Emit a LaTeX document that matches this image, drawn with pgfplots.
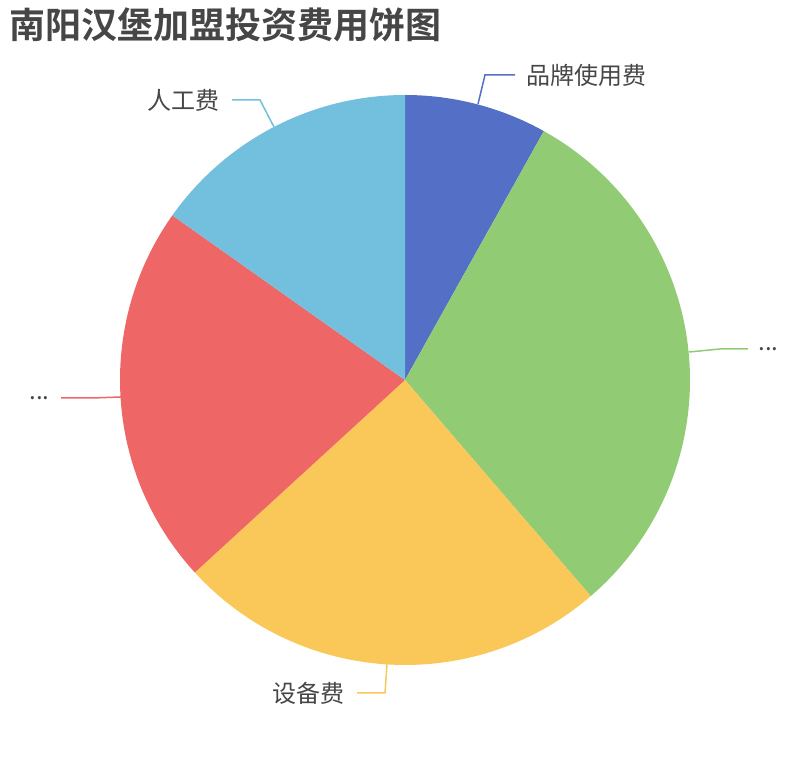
\documentclass[border=0pt]{standalone}
\usepackage{pgfplots}
\pgfplotsset{compat=1.18}
\usepackage{pgfplotstable}
\usepackage{fontspec}
\setmainfont{Noto Sans CJK SC}
\newfontfamily\titlefont{Noto Sans CJK SC Bold}
\definecolor{c1}{HTML}{5470C6}
\definecolor{c2}{HTML}{91CC75}
\definecolor{c3}{HTML}{FAC858}
\definecolor{c4}{HTML}{EE6666}
\definecolor{c5}{HTML}{73C0DE}
\definecolor{txt}{HTML}{464646}
% slice shares (percent), clockwise from 12 o'clock
\pgfplotstableread{
idx value
1 8.1
2 30.6
3 24.5
4 21.6
5 15.2
}\piedata
\newcommand\cum{0}
\newcommand\slice[2]{%
  \pgfmathsetmacro\sa{90-\cum*3.6}%
  \pgfmathsetmacro\ea{90-(\cum+#2)*3.6}%
  \fill[#1] (axis cs:405,380) -- ++(\sa:142.5pt) arc[start angle=\sa, end angle=\ea, radius=142.5pt] -- cycle;
  \pgfmathsetmacro\newcum{\cum+#2}\global\let\cum\newcum}
\begin{document}
\begin{tikzpicture}
\begin{axis}[x=0.5pt,y=0.5pt,xmin=0,xmax=810,ymin=0,ymax=760,
  hide axis,clip=false,enlargelimits=false]
\addplot[draw=none] coordinates {(0,0) (810,760)};
\pgfplotsextra{%
  \pgfplotstablegetelem{0}{value}\of\piedata\let\va\pgfplotsretval
  \pgfplotstablegetelem{1}{value}\of\piedata\let\vb\pgfplotsretval
  \pgfplotstablegetelem{2}{value}\of\piedata\let\vc\pgfplotsretval
  \pgfplotstablegetelem{3}{value}\of\piedata\let\vd\pgfplotsretval
  \pgfplotstablegetelem{4}{value}\of\piedata\let\ve\pgfplotsretval
  \slice{c1}{\va}\slice{c2}{\vb}\slice{c3}{\vc}\slice{c4}{\vd}\slice{c5}{\ve}%
  % leader lines
  \draw[c1,line width=0.75pt] (axis cs:478,656) -- (axis cs:485,685) -- (axis cs:515,685);
  \draw[c2,line width=0.75pt] (axis cs:689,408) -- (axis cs:720,411) -- (axis cs:748,411);
  \draw[c3,line width=0.75pt] (axis cs:387,96) -- (axis cs:385,67) -- (axis cs:357,67);
  \draw[c4,line width=0.75pt] (axis cs:121,363) -- (axis cs:92,362) -- (axis cs:61,362);
  \draw[c5,line width=0.75pt] (axis cs:274,633) -- (axis cs:260,660) -- (axis cs:232,660);
  % labels
  \node[anchor=west,inner sep=0pt,font=\fontsize{12pt}{14pt}\selectfont,text=txt] at (axis cs:526,685) {品牌使用费};
  \node[anchor=west,inner sep=0pt,font=\fontsize{12pt}{14pt}\selectfont,text=txt] at (axis cs:758,411) {...};
  \node[anchor=east,inner sep=0pt,font=\fontsize{12pt}{14pt}\selectfont,text=txt] at (axis cs:220,660) {人工费};
  \node[anchor=east,inner sep=0pt,font=\fontsize{12pt}{14pt}\selectfont,text=txt] at (axis cs:345,67) {设备费};
  \node[anchor=east,inner sep=0pt,font=\fontsize{12pt}{14pt}\selectfont,text=txt] at (axis cs:50,362) {...};
  % title
  \node[anchor=west,inner sep=0pt,font=\titlefont\fontsize{18pt}{20pt}\selectfont,text=txt] at (axis cs:9,735) {南阳汉堡加盟投资费用饼图};
}
\end{axis}
\end{tikzpicture}
\end{document}
